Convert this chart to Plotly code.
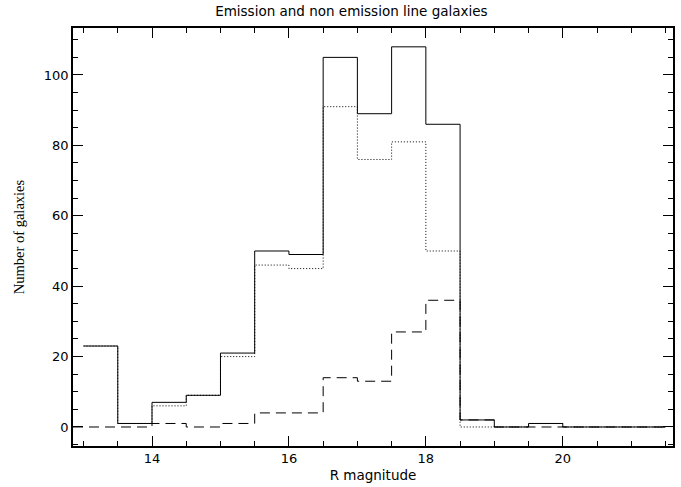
import numpy as np
import plotly.graph_objects as go

# Bin lower edges (R magnitude), bin width 0.5
bin_starts = [13.0, 13.5, 14.0, 14.5, 15.0, 15.5, 16.0, 16.5, 17.0, 17.5,
              18.0, 18.5, 19.0, 19.5, 20.0, 20.5, 21.0]
bin_width = 0.5
total = [23, 1, 7, 9, 21, 50, 49, 105, 89, 108, 86, 2, 0, 1, 0, 0, 0]
non_emission = [23, 1, 6, 9, 20, 46, 45, 91, 76, 81, 50, 0, 0, 1, 0, 0, 0]
emission = [0, 0, 1, 0, 1, 4, 4, 14, 13, 27, 36, 2, 0, 0, 0, 0, 0]

x_range = [12.846, 21.61]
y_range = [-5.4, 113.35]


def steps(starts, vals, x0=None):
    xs, ys = [], []
    for s, v in zip(starts, vals):
        left = s
        if x0 is not None and s == starts[0]:
            left = x0
        xs += [left, s + bin_width]
        ys += [v, v]
    return xs, ys


fig = go.Figure()
xs, ys = steps(bin_starts, emission, x0=x_range[0])
fig.add_trace(go.Scatter(x=xs, y=ys, mode="lines",
                         line=dict(color="black", width=1, dash="10px,6px")))
xs, ys = steps(bin_starts, non_emission)
fig.add_trace(go.Scatter(x=xs, y=ys, mode="lines",
                         line=dict(color="black", width=1, dash="1px,2px")))
xs, ys = steps(bin_starts, total)
fig.add_trace(go.Scatter(x=xs, y=ys, mode="lines",
                         line=dict(color="black", width=1)))

sans = "DejaVu Sans, Liberation Sans, Arial"
axis_common = dict(
    showgrid=False, zeroline=False, showline=True, linecolor="black",
    linewidth=1.5, mirror="ticks", ticks="inside", tickcolor="black",
    tickwidth=1, ticklen=10,
    tickfont=dict(family=sans, size=13, color="black"),
)

fig.update_layout(
    width=681, height=487,
    margin=dict(l=73, r=6, t=28, b=41),
    paper_bgcolor="white", plot_bgcolor="white",
    showlegend=False,
    title=dict(text="Emission and non emission line galaxies",
               x=0.516, xanchor="center", y=0.986, yanchor="top",
               font=dict(family=sans, size=13.5, color="black")),
    xaxis=dict(range=x_range, tickvals=[14, 16, 18, 20],
               minor=dict(dtick=0.5, tick0=13, ticks="inside", ticklen=5,
                          tickcolor="black"),
               title=dict(text="R magnitude", standoff=5,
                          font=dict(family=sans, size=13.5, color="black")),
               **axis_common),
    yaxis=dict(range=y_range, tickvals=[0, 20, 40, 60, 80, 100],
               minor=dict(dtick=5, tick0=0, ticks="inside", ticklen=5,
                          tickcolor="black"),
               title=dict(text="Number of galaxies", standoff=16,
                          font=dict(family="Liberation Serif, Times New Roman",
                                    size=14.5, color="black")),
               **axis_common),
)

fig.write_html("out.html")
